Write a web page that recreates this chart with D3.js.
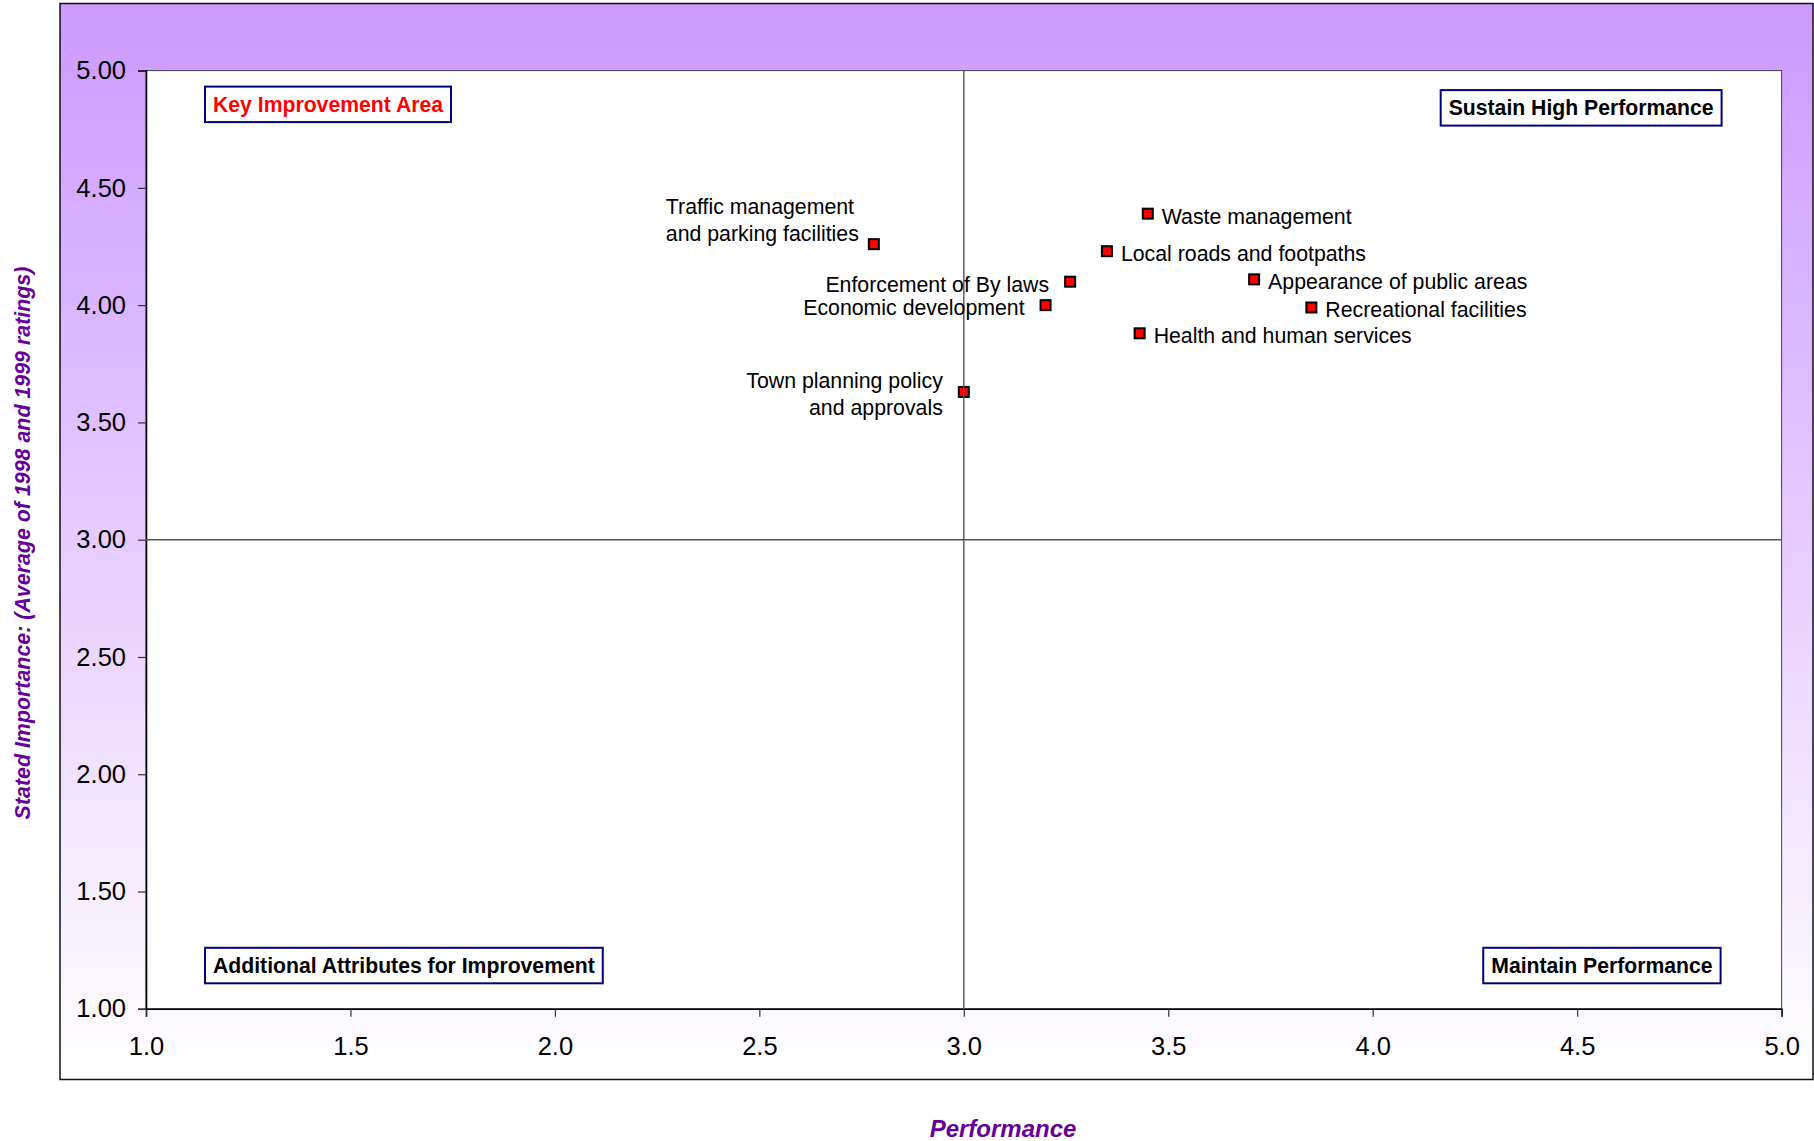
<!DOCTYPE html>
<html>
<head>
<meta charset="utf-8">
<script src="https://cdn.jsdelivr.net/npm/d3@7"></script>
<style>
  html, body { margin: 0; padding: 0; background: #ffffff; }
  svg { display: block; font-family: "Liberation Sans", Arial, Helvetica, sans-serif; }
</style>
</head>
<body>
<svg id="chart" width="1814" height="1141"></svg>
<script>
// Council services: performance rating vs stated importance
const categories = [
  "Traffic management and parking facilities",
  "Waste management",
  "Local roads and footpaths",
  "Enforcement of By laws",
  "Appearance of public areas",
  "Economic development",
  "Recreational facilities",
  "Health and human services",
  "Town planning policy and approvals"
];
const performance = [2.78, 3.45, 3.35, 3.26, 3.71, 3.20, 3.85, 3.43, 3.00];
const importance  = [4.26, 4.39, 4.23, 4.10, 4.11, 4.00, 3.99, 3.88, 3.63];

const xTicks = [1.0, 1.5, 2.0, 2.5, 3.0, 3.5, 4.0, 4.5, 5.0];
const yTicks = [1.0, 1.5, 2.0, 2.5, 3.0, 3.5, 4.0, 4.5, 5.0];

const quadrantNames = [
  "Key Improvement Area",
  "Sustain High Performance",
  "Additional Attributes for Improvement",
  "Maintain Performance"
];
const xMidpoint = 3.0;
const yMidpoint = 3.0;

const xTitle = "Performance";
const yTitle = "Stated Importance: (Average of 1998 and 1999 ratings)";

// ---- layout ----
const svg = d3.select("#chart");
const frame = { left: 60, top: 3.5, right: 1813, bottom: 1079.5 };
const plot = { left: 146, top: 70.6, right: 1781.6, bottom: 1008.8 };

const x = d3.scaleLinear().domain([1, 5]).range([plot.left, plot.right]);
const y = d3.scaleLinear().domain([1, 5]).range([plot.bottom, plot.top]);

// lavender background fading to white
const defs = svg.append("defs");
const grad = defs.append("linearGradient")
  .attr("id", "bg").attr("x1", 0).attr("y1", 0).attr("x2", 0).attr("y2", 1);
grad.append("stop").attr("offset", "0%").attr("stop-color", "#CC99FF");
grad.append("stop").attr("offset", "100%").attr("stop-color", "#FFFFFF");

svg.append("rect")
  .attr("x", frame.left).attr("y", frame.top)
  .attr("width", frame.right - frame.left).attr("height", frame.bottom - frame.top)
  .attr("fill", "url(#bg)").attr("stroke", "#111").attr("stroke-width", 1.5);

svg.append("rect")
  .attr("x", plot.left).attr("y", plot.top)
  .attr("width", plot.right - plot.left).attr("height", plot.bottom - plot.top)
  .attr("fill", "#ffffff").attr("stroke", "#444").attr("stroke-width", 1);

// ---- axes ----
const tickFont = 25.5;
const yAxis = svg.append("g")
  .attr("transform", `translate(${plot.left},0)`)
  .call(d3.axisLeft(y).tickValues(yTicks).tickFormat(d3.format(".2f")).tickSize(8).tickPadding(12));
const xAxis = svg.append("g")
  .attr("transform", `translate(0,${plot.bottom})`)
  .call(d3.axisBottom(x).tickValues(xTicks).tickFormat(d3.format(".1f")).tickSize(8).tickPadding(20));

[xAxis, yAxis].forEach(g => {
  g.select(".domain").attr("stroke", "#000").attr("stroke-width", 1.6);
  g.selectAll(".tick line").attr("stroke", "#333").attr("stroke-width", 1.2);
  g.selectAll(".tick text")
    .attr("fill", "#000")
    .style("font-size", tickFont + "px")
    .style("font-family", "'Liberation Sans', Arial, sans-serif");
});

// ---- markers ----
const points = categories.map((c, i) => ({ name: c, px: performance[i], py: importance[i] }));

svg.append("g").selectAll("rect")
  .data(points)
  .join("rect")
  .attr("x", d => x(d.px) - 5)
  .attr("y", d => y(d.py) - 5)
  .attr("width", 10).attr("height", 10)
  .attr("fill", "#FF0000").attr("stroke", "#000").attr("stroke-width", 2);

// quadrant dividers
svg.append("line")
  .attr("x1", x(xMidpoint)).attr("x2", x(xMidpoint))
  .attr("y1", plot.top).attr("y2", plot.bottom)
  .attr("stroke", "#555").attr("stroke-width", 1.4);
svg.append("line")
  .attr("x1", plot.left).attr("x2", plot.right)
  .attr("y1", y(yMidpoint)).attr("y2", y(yMidpoint))
  .attr("stroke", "#555").attr("stroke-width", 1.4);

// ---- point labels ----
// side, line breaks and baseline offsets for each label
const labelStyle = {
  "Traffic management and parking facilities": { anchor: "start", dx: -208, lines: ["Traffic management", "and parking facilities"], dy: -30.5 },
  "Town planning policy and approvals": { anchor: "end", dx: -21, lines: ["Town planning policy", "and approvals"], dy: -3.6 },
  "Enforcement of By laws": { anchor: "end", dx: -21, dy: 10 },
  "Economic development": { anchor: "end", dx: -21, dy: 10 }
};
const lineGap = 27;

const labels = svg.append("g")
  .style("font-size", "21.3px").attr("fill", "#000");
points.forEach(p => {
  const st = labelStyle[p.name] || { anchor: "start", dx: 14, dy: 10 };
  const lines = st.lines || [p.name];
  const t = labels.append("text")
    .attr("text-anchor", st.anchor)
    .attr("x", x(p.px) + st.dx)
    .attr("y", y(p.py) + st.dy);
  lines.forEach((ln, k) => {
    t.append("tspan")
      .attr("x", x(p.px) + st.dx)
      .attr("dy", k === 0 ? 0 : lineGap)
      .text(ln);
  });
});

// ---- quadrant boxes ----
const boxPadX = 8;
const boxH = 35.5;
const boxes = [
  { text: quadrantNames[0], color: "#FF0000", left: plot.left + 59, top: plot.top + 16 },
  { text: quadrantNames[1], color: "#000000", right: plot.right - 60, top: plot.top + 19.5 },
  { text: quadrantNames[2], color: "#000000", left: plot.left + 59, top: plot.bottom - 61 },
  { text: quadrantNames[3], color: "#000000", right: plot.right - 61, top: plot.bottom - 61 }
];
boxes.forEach(b => {
  const g = svg.append("g");
  const rect = g.append("rect");
  const txt = g.append("text")
    .attr("fill", b.color)
    .style("font-size", "21.2px")
    .style("font-weight", "bold")
    .text(b.text);
  const w = txt.node().getComputedTextLength() + boxPadX * 2;
  const left = b.left !== undefined ? b.left : b.right - w;
  rect.attr("x", left).attr("y", b.top).attr("width", w).attr("height", boxH)
    .attr("fill", "#ffffff").attr("stroke", "#000080").attr("stroke-width", 2);
  txt.attr("x", left + boxPadX).attr("y", b.top + boxH / 2 + 7.5);
});

// ---- axis titles ----
svg.append("text")
  .attr("x", 1003).attr("y", 1136.5)
  .attr("text-anchor", "middle")
  .attr("fill", "#660099")
  .style("font-size", "24px").style("font-weight", "bold").style("font-style", "italic")
  .text(xTitle);

svg.append("text")
  .attr("transform", "translate(30,543) rotate(-90)")
  .attr("text-anchor", "middle")
  .attr("fill", "#660099")
  .style("font-size", "21.4px").style("font-weight", "bold").style("font-style", "italic")
  .text(yTitle);
</script>
</body>
</html>
